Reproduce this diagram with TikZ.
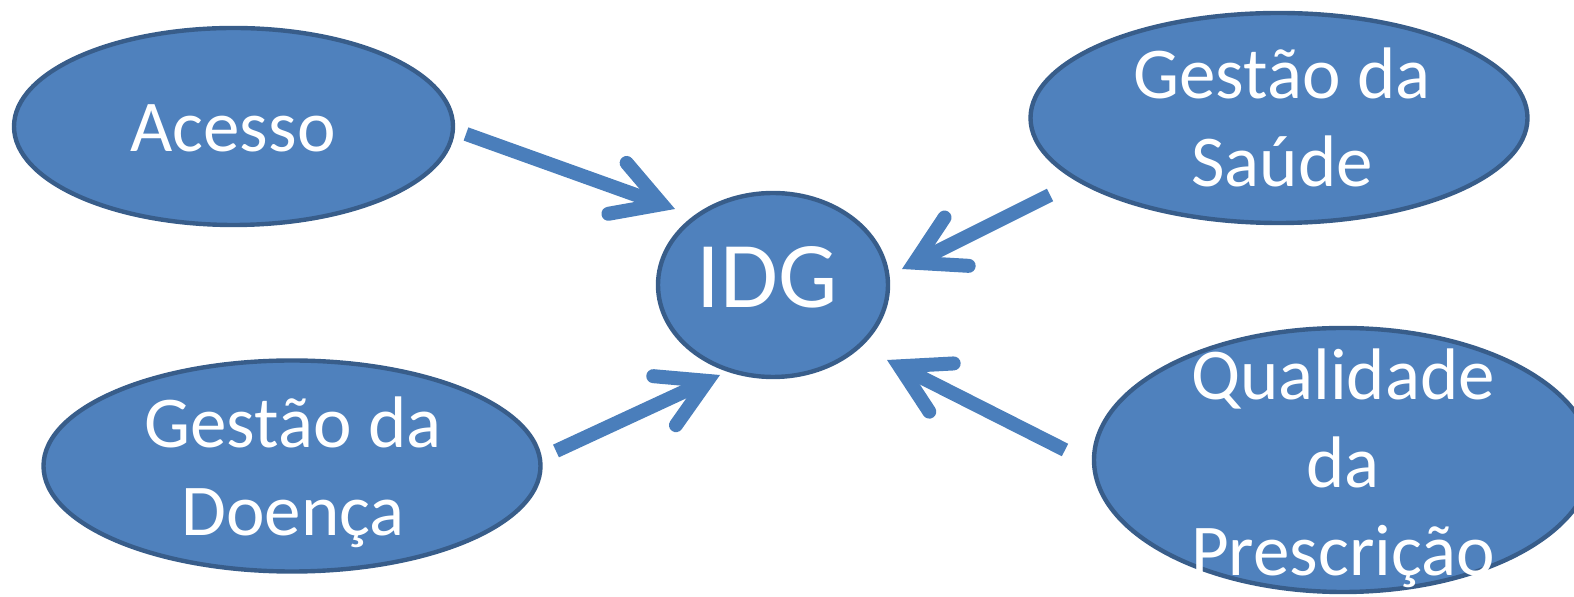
\documentclass[tikz,border=0pt]{standalone}
\usepackage{fontspec}
\setmainfont{Carlito}
\usetikzlibrary{shapes.geometric, arrows.meta}
\definecolor{azul}{HTML}{4F81BD}
\definecolor{azulBorda}{HTML}{385D8A}
\definecolor{azulSeta}{HTML}{4A7EBB}

\begin{document}
\begin{tikzpicture}[x=0.5pt, y=-0.5pt,
    oval/.style={ellipse, draw=azulBorda, line width=2.2pt, fill=azul, inner sep=0pt},
    rotulo/.style={text=white, align=center, font=\fontsize{36.5}{44}\selectfont},
    seta/.style={azulSeta, line width=7pt,
        -{Straight Barb[length=23.5pt, width=27pt, line cap=round, line join=miter]}}]

    \useasboundingbox (0,0) rectangle (1574,597);

    % elipses
    \node[oval, minimum width=219.5pt, minimum height=98.5pt] (acesso) at (233.5,126.5) {};
    \node[oval, minimum width=248.5pt, minimum height=105pt] (saude) at (1279,118) {};
    \node[oval, minimum width=115pt, minimum height=92pt] (idg) at (773,285) {};
    \node[oval, minimum width=248.5pt, minimum height=105.5pt] (doenca) at (292,466) {};
    \node[oval, minimum width=249pt, minimum height=132pt] (qualidade) at (1343,460) {};

    % textos
    \node[rotulo] (acessoTxt) at (233,128) {Acesso};
    \node[rotulo] (saudeTxt) at (1282,117) {Gestão da\\Saúde};
    \node[rotulo, font=\fontsize{47}{56}\selectfont] (idgTxt) at (767,277) {IDG};
    \node[rotulo] (doencaTxt) at (293,472) {Gestão da\\Doença};
    \node[rotulo] (qualidadeTxt) at (1343,468) {Qualidade\\da\\Prescrição};

    % setas para o IDG
    \coordinate (acessoSai) at (466,134);
    \coordinate (acessoChega) at (675,209);
    \coordinate (saudeSai) at (1050,195);
    \coordinate (saudeChega) at (902,269);
    \coordinate (doencaSai) at (556,451);
    \coordinate (doencaChega) at (720,375);
    \coordinate (qualidadeSai) at (1065,450);
    \coordinate (qualidadeChega) at (887,360);

    \draw[seta] (acessoSai) -- (acessoChega);
    \draw[seta] (saudeSai) -- (saudeChega);
    \draw[seta] (doencaSai) -- (doencaChega);
    \draw[seta] (qualidadeSai) -- (qualidadeChega);

\end{tikzpicture}
\end{document}
